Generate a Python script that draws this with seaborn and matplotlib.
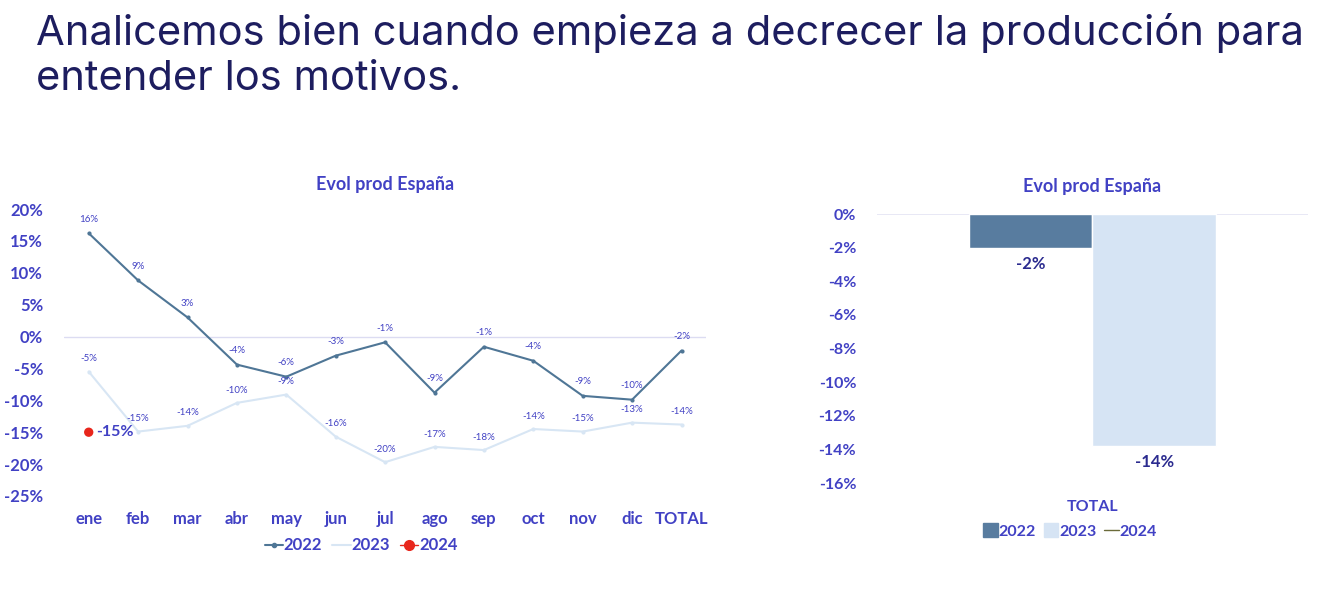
import pandas as pd
import matplotlib
matplotlib.use("Agg")
import matplotlib.pyplot as plt
import seaborn as sns
from matplotlib.lines import Line2D
from matplotlib.patches import Patch

# datos (variación % producción España)
meses = ["ene", "feb", "mar", "abr", "may", "jun", "jul", "ago", "sep", "oct", "nov", "dic", "TOTAL"]
evol_2022 = [16.2, 8.8, 3.0, -4.4, -6.3, -3.0, -0.9, -8.8, -1.6, -3.8, -9.3, -9.9, -2.2]
evol_2023 = [-5.5, -14.9, -14.0, -10.4, -9.1, -15.7, -19.7, -17.3, -17.8, -14.5, -14.9, -13.5, -13.8]
meses_2024 = ["ene"]
evol_2024 = [-15.0]
etiq_2022 = ["16%", "9%", "3%", "-4%", "-6%", "-3%", "-1%", "-9%", "-1%", "-4%", "-9%", "-10%", "-2%"]
etiq_2023 = ["-5%", "-15%", "-14%", "-10%", "-9%", "-16%", "-20%", "-17%", "-18%", "-14%", "-15%", "-13%", "-14%"]

anios_total = ["2022", "2023"]
total_vals = [-2.0, -13.8]
total_etiq = ["-2%", "-14%"]

AZUL_TXT = "#4141c4"
C22 = "#587c9f"
C22_LINE = "#4f7696"
C23 = "#d6e4f4"
C23_LINE = "#d8e6f4"
C24 = "#e8261c"

sns.set_style("white")
plt.rcParams["font.family"] = ["Lato", "DejaVu Sans"]

fig = plt.figure(figsize=(13.2, 5.98), dpi=100)
fig.patch.set_facecolor("white")

fig.text(0.027, 0.978, "Analicemos bien cuando empieza a decrecer la producción para\nentender los motivos.",
         ha="left", va="top", fontsize=30, color="#1d1d5f", family=["Inter", "DejaVu Sans"],
         linespacing=1.22)

# ---- gráfico de líneas ----
ax1 = fig.add_axes([0.0485, 0.1706, 0.4865, 0.4799])
df22 = pd.DataFrame({"mes": meses, "v": evol_2022})
df23 = pd.DataFrame({"mes": meses, "v": evol_2023})
df24 = pd.DataFrame({"mes": meses_2024, "v": evol_2024})
sns.lineplot(data=df22, x="mes", y="v", ax=ax1, color=C22_LINE, lw=1.5, marker="o", ms=3,
             markeredgewidth=0, sort=False)
sns.lineplot(data=df23, x="mes", y="v", ax=ax1, color=C23_LINE, lw=1.5, marker="o", ms=3,
             markeredgewidth=0, sort=False)
sns.scatterplot(data=df24, x="mes", y="v", ax=ax1, color=C24, s=45, edgecolor="none", zorder=5)

for i, (v, t) in enumerate(zip(evol_2022, etiq_2022)):
    ax1.annotate(t, (i, v), xytext=(0, 7), textcoords="offset points", ha="center", va="bottom",
                 fontsize=7, color=AZUL_TXT)
for i, (v, t) in enumerate(zip(evol_2023, etiq_2023)):
    ax1.annotate(t, (i, v), xytext=(0, 6), textcoords="offset points", ha="center", va="bottom",
                 fontsize=7, color=AZUL_TXT)
ax1.annotate("-15%", (0, evol_2024[0]), xytext=(5, 0), textcoords="offset points", ha="left",
             va="center", fontsize=11.5, color=AZUL_TXT, fontweight="bold")

ax1.axhline(0, color="#dcdcf2", lw=1, zorder=0)
ax1.set_xlim(-0.5, 12.5)
ax1.set_ylim(-25, 20)
ax1.set_yticks(range(-25, 21, 5))
ax1.set_yticklabels([f"{t}%" for t in range(-25, 21, 5)])
ax1.tick_params(axis="y", length=0, pad=15, labelsize=12, labelcolor=AZUL_TXT)
ax1.tick_params(axis="x", length=0, pad=11, labelsize=12, labelcolor=AZUL_TXT)
for lab in ax1.get_xticklabels() + ax1.get_yticklabels():
    lab.set_fontweight("bold")
ax1.set_xlabel("")
ax1.set_ylabel("")
sns.despine(ax=ax1, left=True, bottom=True)
ax1.set_title("Evol prod España", fontsize=13, color=AZUL_TXT, fontweight="bold", pad=14)

h1 = [Line2D([], [], color=C22_LINE, lw=1.5, marker="o", ms=3),
      Line2D([], [], color=C23_LINE, lw=1.5),
      Line2D([], [], color=C24, lw=1, marker="o", ms=7)]
fig.legend(h1, ["2022", "2023", "2024"], loc="center", bbox_to_anchor=(0.2735, 0.088), ncol=3,
           frameon=False, labelcolor=AZUL_TXT, handlelength=1.1, handletextpad=0.05,
           columnspacing=0.6, prop={"weight": "bold", "size": 12})

# ---- gráfico de barras TOTAL ----
ax2 = fig.add_axes([0.6644, 0.1923, 0.3265, 0.4498])
dft = pd.DataFrame({"cat": ["TOTAL"] * len(anios_total), "anio": anios_total, "v": total_vals})
sns.barplot(data=dft, x="cat", y="v", hue="anio", palette=[C22, C23], ax=ax2, width=0.8,
            legend=False, saturation=1)
for cont, t in zip(ax2.containers, total_etiq):
    ax2.bar_label(cont, labels=[t], padding=6, fontsize=12, color="#2b2b8f", fontweight="bold")
ax2.axhline(0, color="#e4e4f4", lw=1.2, zorder=0)
ax2.set_xlim(-0.7, 0.7)
ax2.set_ylim(-16, 0)
ax2.set_yticks(range(-16, 1, 2))
ax2.set_yticklabels([f"{t}%" for t in range(-16, 1, 2)])
ax2.tick_params(axis="y", length=0, pad=15, labelsize=11.5, labelcolor=AZUL_TXT)
ax2.tick_params(axis="x", length=0, pad=12, labelsize=11.5, labelcolor=AZUL_TXT)
for lab in ax2.get_xticklabels() + ax2.get_yticklabels():
    lab.set_fontweight("bold")
ax2.set_xlabel("")
ax2.set_ylabel("")
sns.despine(ax=ax2, left=True, bottom=True)
ax2.set_title("Evol prod España", fontsize=13, color=AZUL_TXT, fontweight="bold", pad=16)

h2 = [Patch(color=C22), Patch(color=C23), Line2D([], [], color="#6b6b3a", lw=1)]
fig.legend(h2, ["2022", "2023", "2024"], loc="center", bbox_to_anchor=(0.8106, 0.112), ncol=3,
           frameon=False, labelcolor=AZUL_TXT, handlelength=0.9, handleheight=0.9,
           handletextpad=0.05, columnspacing=0.5, prop={"weight": "bold", "size": 11.5})

fig.savefig("out.png", dpi=100, facecolor="white")
